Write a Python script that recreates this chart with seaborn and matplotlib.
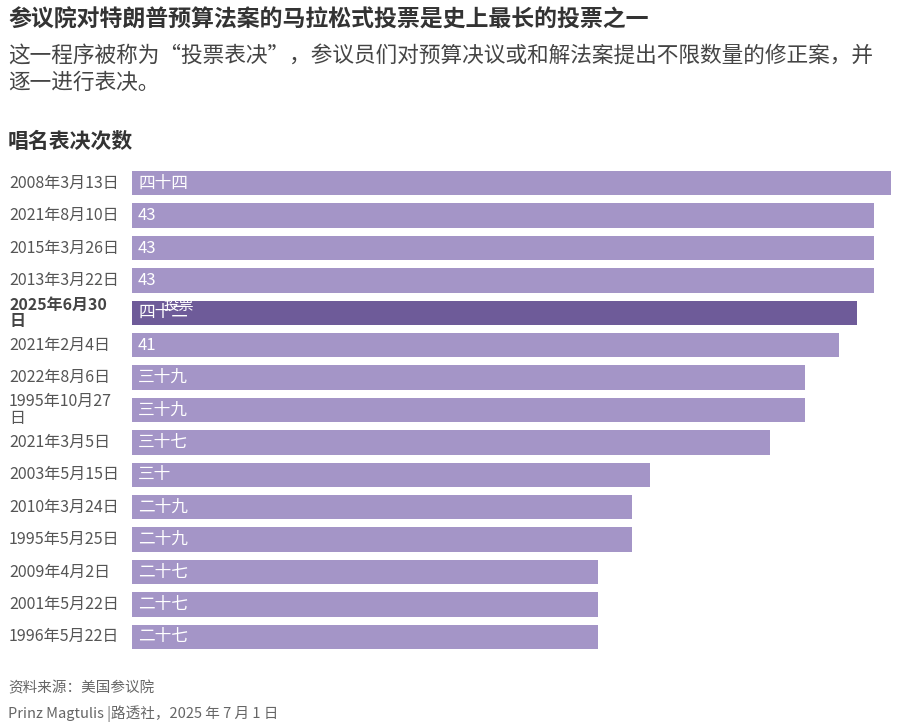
import seaborn as sns
import matplotlib.pyplot as plt
import matplotlib.transforms as mtransforms
import pandas as pd

plt.rcParams['font.family'] = ['Noto Sans CJK SC', 'DejaVu Sans']

dates = ["2008年3月13日", "2021年8月10日", "2015年3月26日", "2013年3月22日", "2025年6月30\n日",
         "2021年2月4日", "2022年8月6日", "1995年10月27\n日", "2021年3月5日", "2003年5月15日",
         "2010年3月24日", "1995年5月25日", "2009年4月2日", "2001年5月22日", "1996年5月22日"]
votes = [44, 43, 43, 43, 42, 41, 39, 39, 37, 30, 29, 29, 27, 27, 27]
labels = ["四十四", "43", "43", "43", "四十二", "41", "三十九", "三十九", "三十七", "三十",
          "二十九", "二十九", "二十七", "二十七", "二十七"]
highlight = "2025年6月30\n日"

df = pd.DataFrame({"date": dates, "votes": votes})
light, dark = "#a18dcf", "#6a51a3"
palette = {d: (dark if d == highlight else light) for d in dates}

W, H = 897, 728
fig = plt.figure(figsize=(W / 100, H / 100), dpi=100)
ax = fig.add_axes([132 / W, 1 - 653 / H, (891 - 132) / W, (653 - 167) / H])
sns.barplot(data=df, x="votes", y="date", hue="date", palette=palette, order=dates,
            width=0.75, legend=False, ax=ax)
ax.set_xlim(0, 44)
ax.set_xlabel("")
ax.set_ylabel("")
ax.set_xticks([])
ax.set_yticks([])
for s in ax.spines.values():
    s.set_visible(False)

# date labels pinned to the left edge of the figure
trans = mtransforms.blended_transform_factory(fig.transFigure, ax.transData)
for i, d in enumerate(dates):
    ax.text(9 / W, i, d, transform=trans, ha="left", va="center", fontsize=11.5,
            color="#444444" if d == highlight else "#555555",
            fontweight="bold" if d == highlight else "normal", linespacing=1.0)

for i, lab in enumerate(labels):
    ax.text(0.35, i, lab, color="white", fontsize=12, va="center", ha="left")
ax.text(1.8, 4 - 0.22, "投票", color="white", fontsize=11, va="center", ha="left")

fig.text(8 / W, 1 - 20 / H, "参议院对特朗普预算法案的马拉松式投票是史上最长的投票之一",
         fontsize=16.5, fontweight="bold", color="#333333", va="center")
fig.text(8 / W, 1 - 69 / H, "这一程序被称为“投票表决”，参议员们对预算决议或和解法案提出不限数量的修正案，并\n逐一进行表决。",
         fontsize=15.6, color="#444444", va="center", linespacing=1.3)
fig.text(8 / W, 1 - 142 / H, "唱名表决次数", fontsize=15, fontweight="bold", color="#333333", va="center")
fig.text(8 / W, 1 - 688 / H, "资料来源：美国参议院", fontsize=10.5, color="#666666", va="center")
fig.text(8 / W, 1 - 714 / H, "Prinz Magtulis |路透社，2025 年 7 月 1 日", fontsize=10.5, color="#666666", va="center")

fig.savefig("out.png", dpi=100)
